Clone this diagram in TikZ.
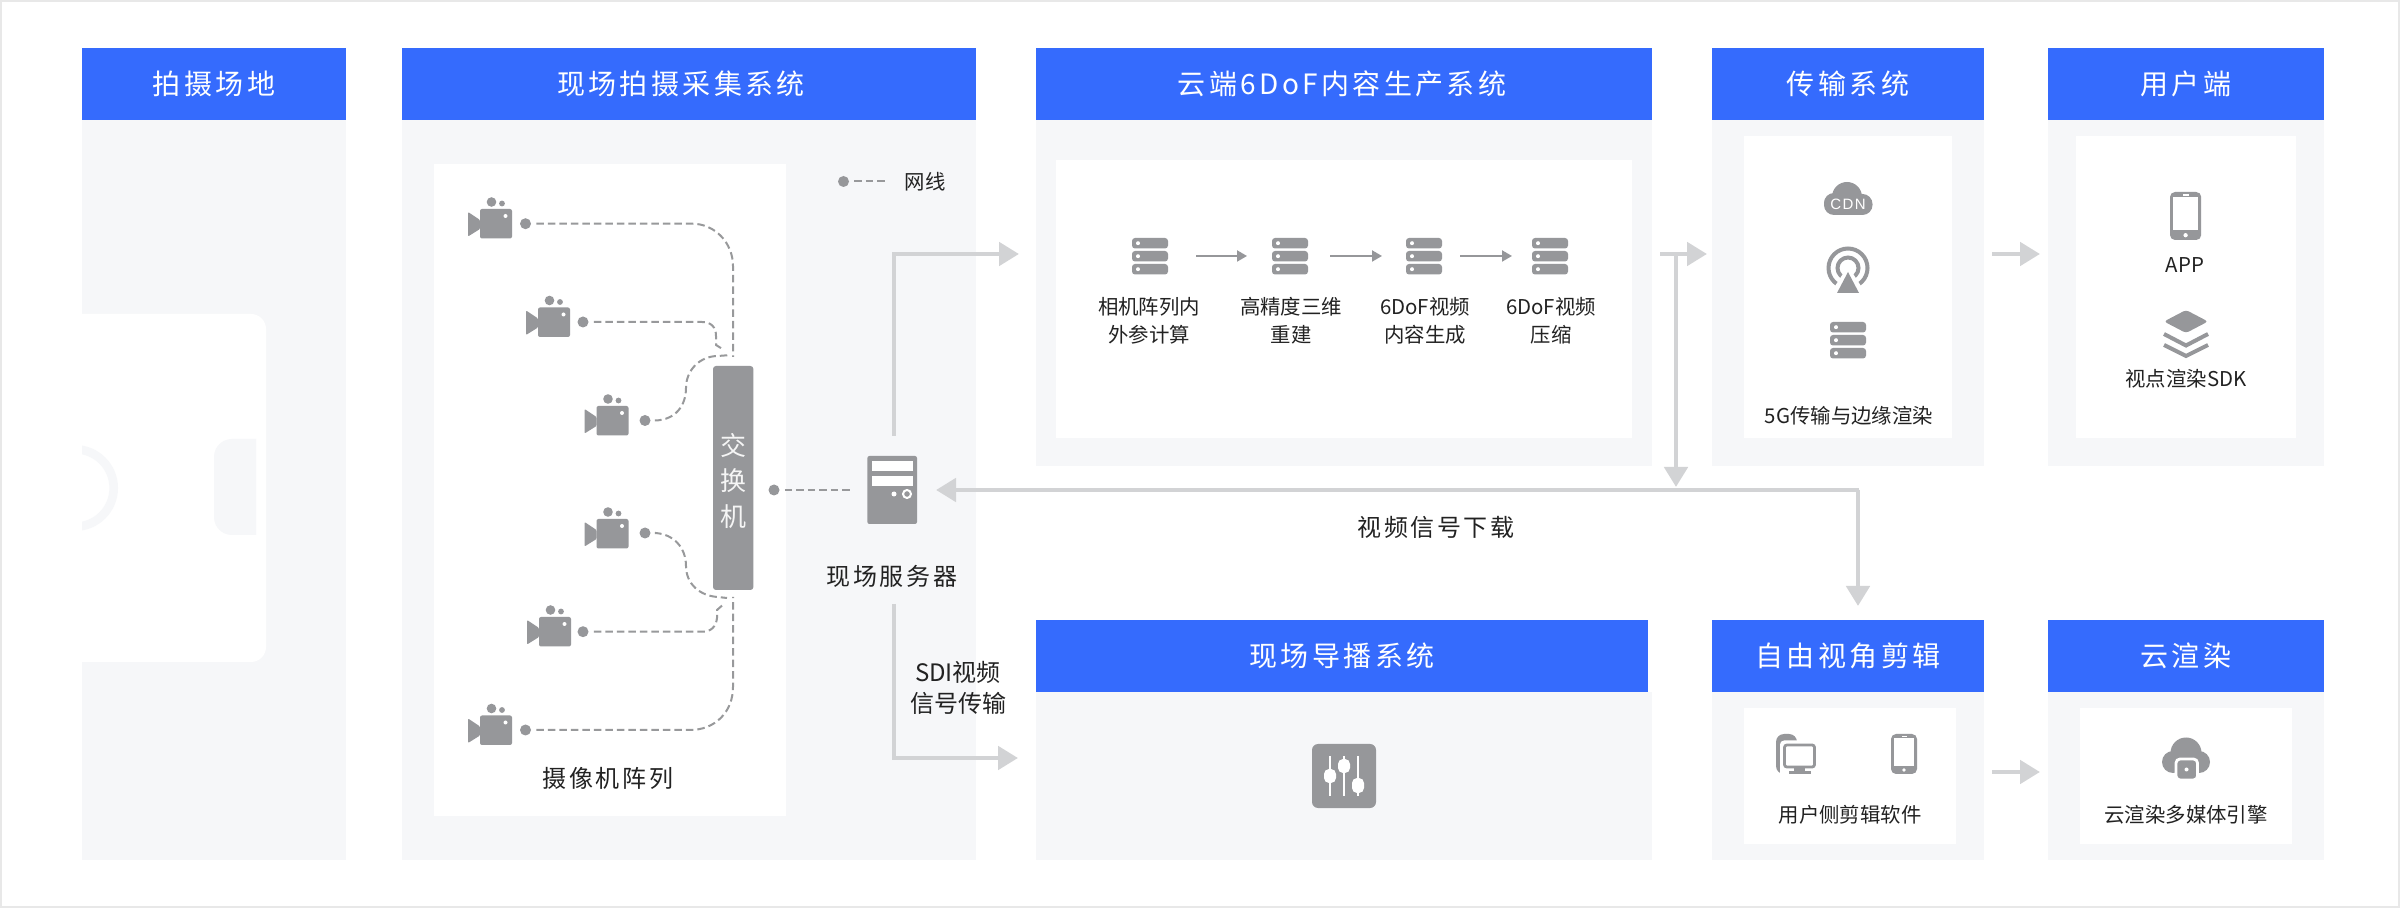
\documentclass[tikz,border=0pt]{standalone}
\usepackage{fontspec}
\setmainfont{Noto Sans CJK SC}
\newfontfamily\hdrfont[LetterSpace=12]{Noto Sans CJK SC}
\newfontfamily\lblfont[LetterSpace=11]{Noto Sans CJK SC}
\newfontfamily\cdnfont[LetterSpace=10]{Liberation Sans}
\usetikzlibrary{arrows.meta}
\definecolor{hblue}{HTML}{356BFD}
\definecolor{pbody}{HTML}{F6F7F9}
\definecolor{igray}{HTML}{96979A}
\definecolor{dgray}{HTML}{98999B}
\definecolor{lgray}{HTML}{D2D3D5}
\definecolor{edge}{HTML}{E8E8E8}
\definecolor{ink}{HTML}{222222}
\tikzset{
  hdr/.style={fill=hblue,text=white,inner sep=0pt,font=\hdrfont\fontsize{14}{14}\selectfont,text height=12.3pt,text depth=1.7pt,anchor=center},
  hdrtxt/.style={inner sep=0pt,text=white,font=\hdrfont\fontsize{14}{14}\selectfont,text height=12.3pt,text depth=1.7pt},
  bodytxt/.style={inner sep=0pt,text=ink,font=\fontsize{10.2}{10.2}\selectfont,text height=8.8pt,text depth=1.4pt},
  lbltxt/.style={inner sep=0pt,text=ink,font=\lblfont\fontsize{12}{12}\selectfont,text height=10.6pt,text depth=1.4pt},
  sditxt/.style={inner sep=0pt,text=ink,font=\fontsize{12}{12}\selectfont,text height=10.6pt,text depth=1.4pt},
  swtxt/.style={inner sep=0pt,text=white!90!igray,font=\fontsize{13}{13}\selectfont,text height=11.4pt,text depth=1.6pt},
  dotn/.style={circle,fill=igray,inner sep=0pt,minimum size=5.5pt},
  wire/.style={draw=dgray,line width=1pt,dash pattern=on 3.75pt off 2pt,shorten <=2.5pt},
  bigarrow/.style={draw=lgray,line width=2.4pt,-{Triangle[length=10pt,width=11.5pt]}},
  smallarrow/.style={draw=igray,line width=1pt,-{Triangle[length=5pt,width=5.5pt]}},
  cam/.pic={
    \fill[igray,rounded corners=1pt] (0,0) rectangle (32,29.5);
    \fill[igray,rounded corners=.5pt] (-12,3) -- (0,11) -- (0,20) -- (-12,27.5) -- cycle;
    \fill[igray] (11.5,-7) circle[radius=4.8];
    \fill[igray] (22,-5.5) circle[radius=2.9];
    \fill[white] (25.5,7) circle[radius=2];
  },
  srvbars/.pic={
    \foreach \yy in {0,13,26}{
      \fill[igray,rounded corners=1.5pt] (0,\yy) rectangle (36,\yy+10.5);
      \fill[white] (6,\yy+5.2) circle[radius=2];
    }
  },
  phoneicon/.pic={
    \fill[igray,rounded corners=2.5pt] (0,0) rectangle (26,40);
    \fill[white] (2.7,4.5) rectangle (23.3,32);
    \fill[white] (10.5,1.8) rectangle (15.5,3);
    \fill[white] (13,36) circle[radius=1.8];
  }
}
\begin{document}
\begin{tikzpicture}[x=0.5pt,y=-0.5pt]
\useasboundingbox (0,0) rectangle (2400,908);
\fill[edge] (0,0) rectangle (2400,908);
\fill[white] (2,2.5) rectangle (2398,905.5);
% panel bodies
\fill[pbody] (82,120) rectangle (346,860);
\fill[pbody] (402,120) rectangle (976,860);
\fill[pbody] (1036,120) rectangle (1652,466);
\fill[pbody] (1712,120) rectangle (1984,466);
\fill[pbody] (2048,120) rectangle (2324,466);
\fill[pbody] (1036,692) rectangle (1652,860);
\fill[pbody] (1712,692) rectangle (1984,860);
\fill[pbody] (2048,692) rectangle (2324,860);
% inner white
\fill[white] (434,164) rectangle (786,816);
\fill[white] (1056,160) rectangle (1632,438);
\fill[white] (1744,136) rectangle (1952,438);
\fill[white] (2076,136) rectangle (2296,438);
\fill[white] (1744,708) rectangle (1956,844);
\fill[white] (2080,708) rectangle (2292,844);
% headers
\node[hdr,minimum width=132pt,minimum height=36pt] (h1) at (214,84) {拍摄场地};
\node[fill=hblue,inner sep=0pt,minimum width=287pt,minimum height=36pt] (h2) at (689,84) {};
\node[hdrtxt] (h2t) at (681,84) {现场拍摄采集系统};
\node[hdr,minimum width=308pt,minimum height=36pt] (h3) at (1344,84) {};
\node[hdrtxt] (h3t) at (1342,84) {云端6DoF内容生产系统};
\node[hdr,minimum width=136pt,minimum height=36pt] (h4) at (1848,84) {传输系统};
\node[hdr,minimum width=138pt,minimum height=36pt] (h5) at (2186,84) {用户端};
\node[hdr,minimum width=306pt,minimum height=36pt] (h6) at (1342,656) {现场导播系统};
\node[hdr,minimum width=136pt,minimum height=36pt] (h7) at (1848,656) {自由视角剪辑};
\node[hdr,minimum width=138pt,minimum height=36pt] (h8) at (2186,656) {云渲染};
% venue sketch
\begin{scope}
  \clip (82,300) rectangle (346,700);
  \fill[white,rounded corners=7.5pt] (40,314) rectangle (266,662);
  \draw[pbody,line width=4.3pt] (75,488) circle[radius=38.7];
\end{scope}
\begin{scope}
  \clip (200,430) rectangle (256,540);
  \fill[pbody,rounded corners=9pt] (214,439) rectangle (290,535);
\end{scope}
% cameras
\pic at (480,209) {cam};
\pic at (538,307.5) {cam};
\pic at (596.5,406) {cam};
\pic at (596.5,519) {cam};
\pic at (539,617) {cam};
\pic at (480,715.5) {cam};
\node[dotn] (d1) at (525.5,223.7) {};
\node[dotn] (d2) at (583,322) {};
\node[dotn] (d3) at (645,420.5) {};
\node[dotn] (d4) at (645,533) {};
\node[dotn] (d5) at (583,631.7) {};
\node[dotn] (d6) at (525.5,730) {};
\coordinate (j1) at (733,357);
\coordinate (j2) at (724,350);
\coordinate (j3) at (731,355);
\coordinate (j4) at (727,598);
\coordinate (j5) at (725,603);
\coordinate (j6) at (733,597);
\draw[wire] (d1) -- (692,223.7) .. controls (715,223.7) and (733,243) .. (733,266) -- (j1);
\draw[wire] (d2) -- (702,322) .. controls (711,322) and (716,327) .. (716,336) -- (716,345) -- (j2);
\draw[wire] (d3) -- (655,420.5) .. controls (676,420) and (686,405) .. (686,388) .. controls (686,370) and (700,356) .. (718,356) -- (j3);
\draw[wire] (d4) -- (655,533) .. controls (674,534) and (686,548) .. (686,566) .. controls (686,584) and (700,596) .. (718,597) -- (j4);
\draw[wire] (d5) -- (702,631.7) .. controls (711,631.7) and (716,627) .. (717,618) -- (717,610) -- (j5);
\draw[wire] (d6) -- (690,730) .. controls (715,730) and (733,712) .. (733,687) -- (j6);
% switch
\node[fill=igray,rounded corners=1.5pt,minimum width=20.2pt,minimum height=112pt,inner sep=0pt] (sw) at (733.2,478) {};
\node[swtxt] (sw1) at (733.2,446) {交};
\node[swtxt] (sw2) at (733.2,481) {换};
\node[swtxt] (sw3) at (733.2,517) {机};
\node[lbltxt] (camlbl) at (608,778) {摄像机阵列};
% legend
\node[dotn] (ld) at (843.5,181.5) {};
\coordinate (le) at (888,181.5);
\draw[wire] (ld) -- (le);
\node[bodytxt] (lt) at (925,182.5) {网线};
% server
\node[dotn] (d7) at (774,490) {};
\node[fill=igray,rounded corners=1pt,minimum width=24.8pt,minimum height=34pt,inner sep=0pt] (srv) at (892.2,490) {};
\coordinate (wireend) at (851,490);
\draw[wire] (d7) -- (wireend);
\fill[white] (872,461) rectangle (912.5,471);
\fill[white] (872,476) rectangle (912.5,486);
\fill[white] (894,494) circle[radius=2.5];
\draw[white,line width=1pt] (907,494) circle[radius=4];
\node[lbltxt] (srvlbl) at (892,576) {现场服务器};
% big arrows
\coordinate (a1s) at (894,436);
\coordinate (a1e) at (1019,254);
\draw[bigarrow] (a1s) -- (894,254) -- (a1e);
\coordinate (a2s) at (894,604);
\coordinate (a2e) at (1018,758);
\draw[bigarrow] (a2s) -- (894,758) -- (a2e);
\coordinate (a3s) at (1660,254);
\coordinate (a3e) at (1707,254);
\draw[bigarrow] (a3s) -- (a3e);
\coordinate (a4s) at (1676,252.8);
\coordinate (a4e) at (1676,487);
\draw[bigarrow] (a4s) -- (a4e);
\coordinate (a5s) at (1992,254);
\coordinate (a5e) at (2040,254);
\draw[bigarrow] (a5s) -- (a5e);
\coordinate (a6s) at (1992,772);
\coordinate (a6e) at (2040,772);
\draw[bigarrow] (a6s) -- (a6e);
\coordinate (a7c) at (1858,490);
\coordinate (a7l) at (936,490);
\coordinate (a7r) at (1858,606);
\draw[bigarrow] (a7c) -- (a7l);
\draw[bigarrow] (a7c) -- (a7r);
\draw[draw=lgray,line width=2.4pt] (1856,490) -- (1859.2,490);
\node[lbltxt] (vdl) at (1436,527) {视频信号下载};
\node[sditxt] (sdi1) at (958,672) {SDI视频};
\node[sditxt] (sdi2) at (958,703) {信号传输};
% P3 content
\pic at (1132,238) {srvbars};
\pic at (1272,238) {srvbars};
\pic at (1406,238) {srvbars};
\pic at (1532,238) {srvbars};
\coordinate (p1s) at (1196,256); \coordinate (p1e) at (1247,256);
\coordinate (p2s) at (1330,256); \coordinate (p2e) at (1382,256);
\coordinate (p3s) at (1460,256); \coordinate (p3e) at (1512,256);
\draw[smallarrow] (p1s) -- (p1e);
\draw[smallarrow] (p2s) -- (p2e);
\draw[smallarrow] (p3s) -- (p3e);
\node[bodytxt] (t1a) at (1149,307.5) {相机阵列内};
\node[bodytxt] (t1b) at (1149,335) {外参计算};
\node[bodytxt] (t2a) at (1291,307.5) {高精度三维};
\node[bodytxt] (t2b) at (1291,335) {重建};
\node[bodytxt] (t3a) at (1425,307.5) {6DoF视频};
\node[bodytxt] (t3b) at (1425,335) {内容生成};
\node[bodytxt] (t4a) at (1551,307.5) {6DoF视频};
\node[bodytxt] (t4b) at (1551,335) {压缩};
% P4 content: CDN cloud
\fill[igray] (1847,197) circle[radius=15];
\fill[igray] (1834,203) circle[radius=10];
\fill[igray,rounded corners=5pt] (1824,194) rectangle (1872.5,215);
\node[inner sep=0pt,text=white,font=\cdnfont\fontsize{7.5}{7.5}\selectfont] (cdn) at (1848,204) {CDN};
% antenna
\draw[igray,line width=2pt] (1848,268) circle[radius=19.5];
\draw[igray,line width=2pt] (1848,268) circle[radius=10.5];
\fill[white] (1848,266) -- (1826,300) -- (1870,300) -- cycle;
\fill[igray] (1848,272) -- (1859,293) -- (1837,293) -- cycle;
\pic at (1830,322) {srvbars};
\node[bodytxt] (t5) at (1849,416) {5G传输与边缘渲染};
% P5 content
\pic[xscale=1.2,yscale=1.2] at (2170,192) {phoneicon};
\node[bodytxt] (t6) at (2185,265) {APP};
\fill[igray,rounded corners=1.5pt] (2164,321.5) -- (2186,310) -- (2208,321.5) -- (2186,333) -- cycle;
\draw[igray,line width=2pt] (2164,334) -- (2186,345.5) -- (2208,334);
\draw[igray,line width=2pt] (2164,345) -- (2186,356) -- (2208,345);
\node[bodytxt] (t7) at (2186,379) {视点渲染SDK};
% mixer
\fill[igray,rounded corners=3pt] (1312,744) rectangle (1376,808);
\draw[white,line width=.75pt] (1330,756) -- (1330,796) (1344,756) -- (1344,796) (1358,756) -- (1358,796);
\fill[white,rounded corners=2.5pt] (1324,769) rectangle (1336,783);
\fill[white,rounded corners=2.5pt] (1338,759) rectangle (1350,773);
\fill[white,rounded corners=2.5pt] (1352,778) rectangle (1364,793);
% P7 content
\fill[igray,rounded corners=4pt] (1776,734) rectangle (1797,774);
\fill[white,rounded corners=2pt] (1780,740.5) rectangle (1819,778);
\fill[igray] (1794,767) rectangle (1805,771);
\fill[igray] (1789,771) rectangle (1811,774);
\draw[igray,line width=1.4pt,fill=white,rounded corners=1.2pt] (1784.5,745) rectangle (1814.5,767);
\pic at (1891,734) {phoneicon};
\node[bodytxt] (t8) at (1850,815) {用户侧剪辑软件};
% P8 content
\fill[igray] (2186,753) circle[radius=15.5];
\fill[igray] (2173,762) circle[radius=11];
\fill[igray] (2199,762) circle[radius=11];
\draw[white,line width=1.4pt,fill=igray,rounded corners=2pt] (2176,759) rectangle (2197.5,780);
\fill[white] (2186.5,769.5) circle[radius=2];
\node[bodytxt] (t9) at (2186,815) {云渲染多媒体引擎};
\end{tikzpicture}
\end{document}
